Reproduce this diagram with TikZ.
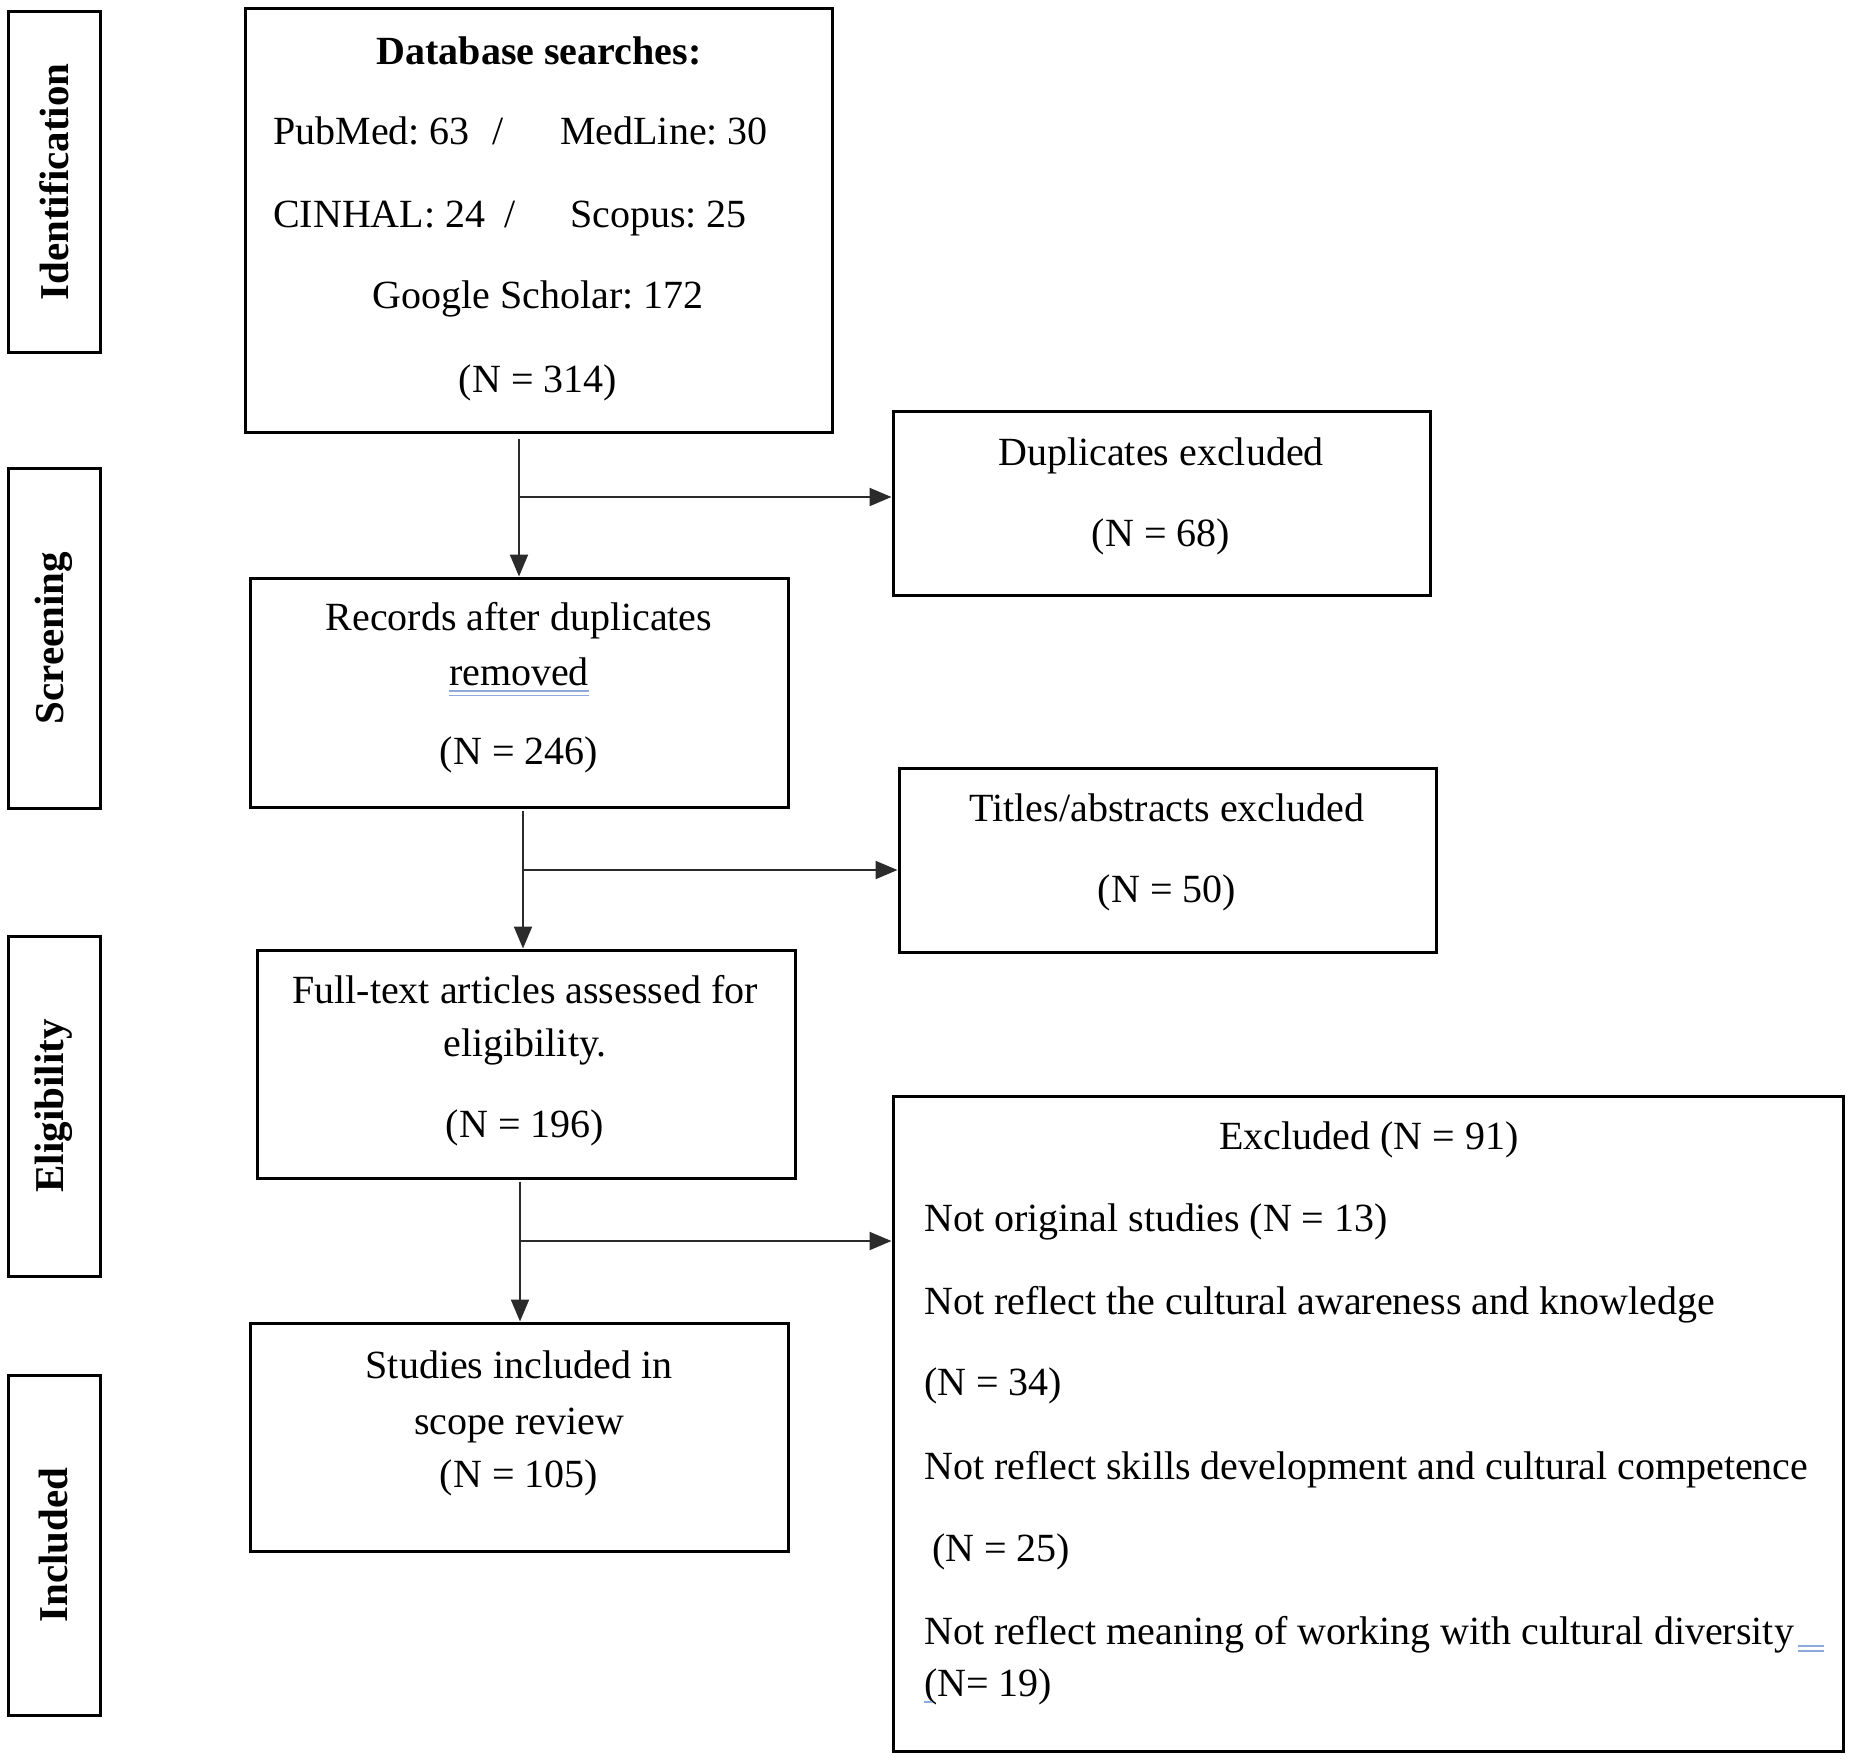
\documentclass[tikz,border=0pt]{standalone}
\usepackage{fontspec}
\setmainfont{Liberation Serif}
\frenchspacing
\usetikzlibrary{arrows.meta,calc}
\definecolor{wordblue}{HTML}{8EA9DB}
\definecolor{arrowgray}{HTML}{2B2B2B}
\begin{document}
\begin{tikzpicture}[x=1pt,y=-1pt,
  box/.style={draw=black, line width=3pt, inner sep=0pt},
  txt/.style={font=\fontsize{40}{44}\selectfont, inner sep=0pt, anchor=base},
  txtl/.style={txt, anchor=base west},
  side/.style={font=\fontsize{41}{44}\selectfont\bfseries, inner sep=0pt, rotate=90},
  flow/.style={draw=arrowgray, line width=2.2pt, -{Triangle[length=22pt,width=18pt]}},
  blueline/.style={draw=wordblue, line width=1.6pt}]
\useasboundingbox (0,0) rectangle (1850,1761);

% side label boxes
\node[box, minimum width=92pt, minimum height=340pt] (idl) at (54,182) {};
\node[box, minimum width=92pt, minimum height=340pt] (scl) at (54,638) {};
\node[box, minimum width=92pt, minimum height=340pt] (ell) at (54,1106) {};
\node[box, minimum width=92pt, minimum height=340pt] (inl) at (54,1545) {};
\node[side] (idt) at (idl.center) {Identification};
\node[side] (sct) at (scl.center) {Screening};
\node[side] (elt) at (ell.center) {Eligibility};
\node[side] (int) at (inl.center) {Included};

% main boxes
\node[box, minimum width=587pt, minimum height=423pt] (db) at (538.5,220.5) {};
\node[box, minimum width=537pt, minimum height=184pt] (dup) at (1161.5,503) {};
\node[box, minimum width=538pt, minimum height=229pt] (rec) at (519,692.5) {};
\node[box, minimum width=537pt, minimum height=184pt] (tit) at (1167.5,860) {};
\node[box, minimum width=538pt, minimum height=228pt] (ful) at (526,1064) {};
\node[box, minimum width=538pt, minimum height=228pt] (stu) at (519,1437) {};
\node[box, minimum width=950pt, minimum height=655pt] (exc) at (1368,1423.5) {};

% database box text
\node[txt, font=\fontsize{40}{44}\selectfont\bfseries] (db1) at (539,64) {Database searches:};
\node[txtl] (db2a) at (273,144) {PubMed: 63};
\node[txt] (db2b) at (498,144) {/};
\node[txtl] (db2c) at (560,144) {MedLine: 30};
\node[txtl] (db3a) at (273,227) {CINHAL: 24};
\node[txt] (db3b) at (510,227) {/};
\node[txtl] (db3c) at (570,227) {Scopus: 25};
\node[txt] (db4) at (538,308) {Google Scholar: 172};
\node[txt] (db5) at (538,392) {(N = 314)};

% duplicates
\node[txt] (dup1) at (1161,465) {Duplicates excluded};
\node[txt] (dup2) at (1161,546) {(N = 68)};

% records
\node[txt] (rec1) at (519,630) {Records after duplicates};
\node[txt] (rec2) at (519,685) {removed};
\node[txt] (rec3) at (519,764) {(N = 246)};
\draw[blueline] ($(rec2.base west)+(0,6)$) -- ($(rec2.base east)+(0,6)$);
\draw[blueline] ($(rec2.base west)+(0,10.5)$) -- ($(rec2.base east)+(0,10.5)$);

% titles
\node[txt] (tit1) at (1167,821) {Titles/abstracts excluded};
\node[txt] (tit2) at (1167,902) {(N = 50)};

% full text
\node[txt] (ful1) at (525,1003) {Full-text articles assessed for};
\node[txt] (ful2) at (525,1056) {eligibility.};
\node[txt] (ful3) at (525,1137) {(N = 196)};

% studies
\node[txt] (stu1) at (519,1378) {Studies included in};
\node[txt] (stu2) at (519,1434) {scope review};
\node[txt] (stu3) at (519,1487) {(N = 105)};

% excluded
\node[txt] (exc0) at (1369,1149) {Excluded (N = 91)};
\node[txtl] (exc1) at (924,1231) {Not original studies (N = 13)};
\node[txtl] (exc2) at (924,1314) {Not reflect the cultural awareness and knowledge};
\node[txtl] (exc3) at (924,1395) {(N = 34)};
\node[txtl] (exc4) at (924,1479) {Not reflect skills development and cultural competence};
\node[txtl] (exc5) at (932,1561) {(N = 25)};
\node[txtl] (exc6) at (924,1644) {Not reflect meaning of working with cultural diversity};
\node[txtl] (exc7) at (924,1696) {(N= 19)};
\draw[blueline] ($(exc6.base east)+(4,2)$) -- ($(exc6.base east)+(30,2)$);
\draw[blueline] ($(exc6.base east)+(4,7)$) -- ($(exc6.base east)+(30,7)$);
\draw[blueline] ($(exc7.base west)+(0,6)$) -- ($(exc7.base west)+(8,6)$);

% connectors
\coordinate (b1) at (519,497);
\coordinate (b2) at (523,870);
\coordinate (b3) at (520,1241);
\draw[draw=arrowgray, line width=2.2pt, shorten <=5pt] (db.south -| b1) -- (b1);
\draw[flow] (b1) -- (rec.north -| b1);
\draw[flow] (b1) -- (b1 -| dup.west);
\draw[draw=arrowgray, line width=2.2pt, shorten <=2pt] (rec.south -| b2) -- (b2);
\draw[flow] (b2) -- (ful.north -| b2);
\draw[flow] (b2) -- (b2 -| tit.west);
\draw[draw=arrowgray, line width=2.2pt, shorten <=2pt] (ful.south -| b3) -- (b3);
\draw[flow] (b3) -- (stu.north -| b3);
\draw[flow] (b3) -- (b3 -| exc.west);
\end{tikzpicture}
\end{document}
